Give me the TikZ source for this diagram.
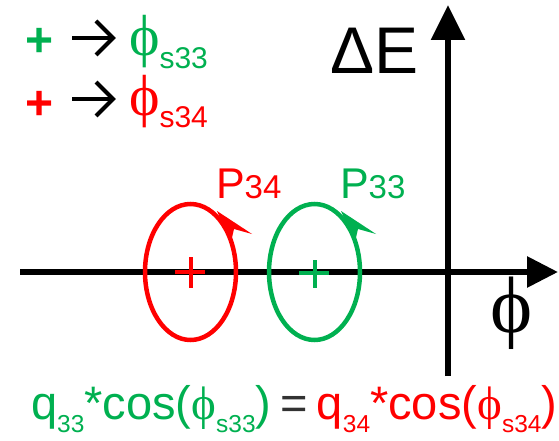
\documentclass[tikz,border=0pt]{standalone}
\usepackage{fontspec}
\setmainfont{Liberation Sans}
\newfontfamily\phifont{Liberation Serif}
\usetikzlibrary{arrows.meta}
\definecolor{pgreen}{RGB}{0,176,80}
\definecolor{pred}{RGB}{255,0,0}
\definecolor{eqgray}{RGB}{50,50,50}
\newcommand{\fsz}[1]{\fontsize{#1}{#1}\selectfont}
\newcommand{\myphi}{{\phifont ϕ}}
\newcommand{\lowsub}[2]{\raisebox{-#1pt}{\fsz{24.5}#2}}
\begin{document}
\begin{tikzpicture}[x=1pt,y=-1pt,
  txt/.style={inner sep=0pt, outer sep=0pt, anchor=base west},
  axisline/.style={line width=6pt},
  orbit/.style={line width=4.5pt},
  crossline/.style={line width=4pt},
  symarrow/.style={line width=4pt, line join=miter}
]
\useasboundingbox (0,0) rectangle (559,441);

% axes
\coordinate (xstart) at (20,272);
\coordinate (xend) at (558,272);
\coordinate (ystart) at (448,376);
\coordinate (yend) at (448,5);
\draw[axisline, -{Triangle[length=31pt,width=30pt]}] (xstart) -- (xend);
\draw[axisline, -{Triangle[length=35pt,width=33pt]}] (ystart) -- (yend);

% axis labels
\node[txt, font=\fsz{66}] (dE) at (330,74) {ΔE};
\node[txt, font=\fsz{80}\phifont] (phiax) at (490,332) {ϕ};

% legend
\node[txt, pgreen, font=\fsz{48}\bfseries] (gplus) at (25,57) {+};
\node[txt, pred, font=\fsz{48}\bfseries] (rplus) at (25,120) {+};
\coordinate (a1s) at (72,38);
\coordinate (a1e) at (113,38);
\coordinate (a2s) at (72,99);
\coordinate (a2e) at (113,99);
\draw[symarrow] (a1s) -- (a1e);
\draw[symarrow] ([shift={(-17,-17)}]a1e) -- (a1e) -- ([shift={(-17,17)}]a1e);
\draw[symarrow] (a2s) -- (a2e);
\draw[symarrow] ([shift={(-17,-17)}]a2e) -- (a2e) -- ([shift={(-17,17)}]a2e);
\node[txt, pgreen, font=\fsz{58}] (g34) at (129,56) {\myphi\lowsub{13}{\fsz{30}s33}};
\node[txt, pred, font=\fsz{58}] (r34) at (129,116) {\myphi\lowsub{12}{\fsz{30}s34}};

% orbits
\coordinate (rc) at (190.5,272);
\coordinate (gc) at (314.5,272);
\draw[pred, orbit] (rc) ellipse [x radius=45.5, y radius=68];
\draw[pgreen, orbit] (gc) ellipse [x radius=45.5, y radius=68];
\fill[pred] (217,211) -- (252,234) -- (234,229) -- (231,242) -- cycle;
\fill[pgreen] (341,211) -- (376,234) -- (358,229) -- (355,242) -- cycle;
\draw[pred, crossline] (175,272) -- (205,272) (rc) ++(0,-15) -- ++(0,31);
\draw[pgreen, crossline] (299,273) -- (329,273) (gc) ++(0,-12) -- ++(0,28);

% orbit labels
\node[txt, pred, font=\fsz{43}] (p34) at (216,198) {P{\fsz{33}34}};
\node[txt, pgreen, font=\fsz{43}] (p33) at (340,198) {P{\fsz{33}33}};

% equation
\node[txt, font=\fsz{47}] (eq) at (31,419)
  {\textcolor{pgreen}{q\lowsub{13}{33}*cos(\myphi\lowsub{13}{s33})}\hspace{9pt}\textcolor{eqgray}{=}\hspace{9pt}\textcolor{pred}{q\lowsub{13}{34}*cos(\myphi\lowsub{13}{s34})}};
\end{tikzpicture}
\end{document}
